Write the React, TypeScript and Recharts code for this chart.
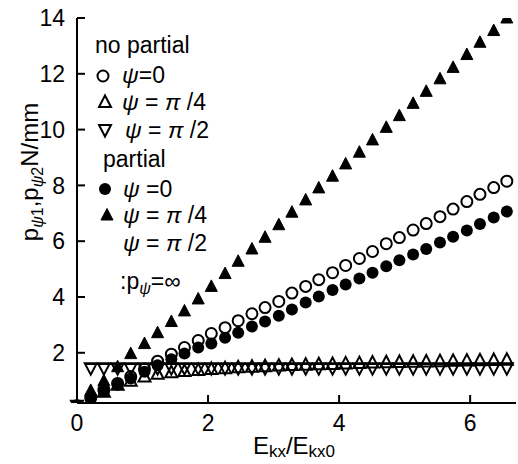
import React from 'react';
import { ScatterChart, Scatter, XAxis, YAxis } from 'recharts';

// E_kx / E_kx0
const xVals = [
  0, 0.21, 0.41, 0.62, 0.82, 1.03, 1.23, 1.44, 1.64, 1.85, 2.05, 2.26, 2.46, 2.67, 2.87, 3.08, 3.28,
  3.49, 3.69, 3.9, 4.1, 4.31, 4.51, 4.72, 4.92, 5.13, 5.33, 5.54, 5.74, 5.95, 6.15, 6.36, 6.56,
];

// no partial
const noPartial0 = [
  0.1, 0.4, 0.68, 0.9, 1.15, 1.42, 1.7, 1.95, 2.19, 2.44, 2.69, 2.9, 3.15, 3.4, 3.62, 3.84, 4.14,
  4.38, 4.62, 4.87, 5.13, 5.38, 5.63, 5.91, 6.13, 6.4, 6.63, 6.88, 7.15, 7.42, 7.68, 7.92, 8.15,
];
const noPartialQuarter = [
  0.1, 0.3, 0.6, 0.85, 1.0, 1.15, 1.25, 1.3, 1.35, 1.38, 1.42, 1.45, 1.48, 1.5, 1.52, 1.54, 1.56,
  1.57, 1.59, 1.6, 1.62, 1.63, 1.65, 1.66, 1.67, 1.68, 1.69, 1.7, 1.71, 1.72, 1.73, 1.74, 1.75,
];
const noPartialHalf = [
  0.1, 1.45, 1.45, 1.45, 1.45, 1.45, 1.45, 1.45, 1.45, 1.45, 1.45, 1.45, 1.45, 1.45, 1.45, 1.45, 1.45,
  1.45, 1.45, 1.45, 1.45, 1.45, 1.45, 1.45, 1.45, 1.45, 1.45, 1.45, 1.45, 1.45, 1.45, 1.45, 1.45,
];

// partial
const partial0 = [
  0.1, 0.35, 0.62, 0.85, 1.08, 1.32, 1.55, 1.77, 1.97, 2.19, 2.33, 2.54, 2.72, 2.94, 3.12, 3.33, 3.55,
  3.8, 4.02, 4.25, 4.45, 4.66, 4.87, 5.1, 5.32, 5.52, 5.72, 5.95, 6.16, 6.38, 6.62, 6.85, 7.06,
];
const partialQuarter = [
  0.1, 0.65, 1.0, 1.5, 1.97, 2.33, 2.72, 3.12, 3.5, 3.93, 4.38, 4.84, 5.28, 5.72, 6.14, 6.59, 7.04,
  7.48, 7.91, 8.33, 8.77, 9.19, 9.63, 10.08, 10.5, 10.94, 11.37, 11.82, 12.23, 12.69, 13.13, 13.55, 14.0,
];

// psi = pi/2 with p_psi = infinity (plain line)
const infLineX = [0.12, 6.66];
const infLineY = [1.6, 1.6];

const xTicks = [0, 2, 4, 6];
const yTicks = [2, 4, 6, 8, 10, 12, 14];

const W = 518;
const H = 464;
const FONT = "'Liberation Sans', Arial, Helvetica, sans-serif";

const pts = (xs: number[], ys: number[]) => xs.map((x, i) => ({ x, y: ys[i] }));

const OpenCircle = ({ cx, cy }: any) => (
  <circle cx={cx} cy={cy} r={5.5} fill="none" stroke="#000" strokeWidth={2} />
);
const FilledCircle = ({ cx, cy }: any) => <circle cx={cx} cy={cy} r={6} fill="#000" />;
const UpTri = ({ cx, cy, filled }: any) => (
  <polygon
    points={`${cx},${cy - 6.5} ${cx - 6},${cy + 5} ${cx + 6},${cy + 5}`}
    fill={filled ? '#000' : 'none'}
    stroke="#000"
    strokeWidth={filled ? 1 : 2}
  />
);
const DownTri = ({ cx, cy }: any) => (
  <polygon
    points={`${cx - 6},${cy - 5} ${cx + 6},${cy - 5} ${cx},${cy + 6.5}`}
    fill="none"
    stroke="#000"
    strokeWidth={2}
  />
);

const Psi = () => <tspan fontStyle="italic">ψ</tspan>;
const Pi = () => <tspan fontStyle="italic">π</tspan>;

const axisStyle = { stroke: '#000', strokeWidth: 2 };
const tickFont = { fill: '#000', fontSize: 23, fontFamily: FONT };

export default function App() {
  return (
    <div style={{ position: 'absolute', left: 0, top: 0, width: W, height: H, background: '#fff' }}>
      <ScatterChart width={W} height={H} margin={{ top: 18, right: 2, bottom: 0, left: 0 }}>
        <XAxis
          type="number"
          dataKey="x"
          domain={[0, 6.7]}
          ticks={xTicks}
          height={61}
          axisLine={axisStyle}
          tickLine={axisStyle}
          tickSize={-8}
          tickMargin={20}
          tick={tickFont}
        />
        <XAxis
          xAxisId="top"
          orientation="top"
          type="number"
          domain={[0, 6.7]}
          ticks={[2, 4, 6]}
          height={0}
          axisLine={axisStyle}
          tickLine={axisStyle}
          tickSize={-8}
          tickFormatter={() => ''}
        />
        <YAxis
          type="number"
          dataKey="y"
          domain={[0.2, 14]}
          ticks={yTicks}
          width={77}
          axisLine={axisStyle}
          tickLine={axisStyle}
          tickSize={-8}
          tickMargin={20}
          tick={tickFont}
          allowDataOverflow
        />
        <YAxis
          yAxisId="right"
          orientation="right"
          type="number"
          domain={[0.2, 14]}
          ticks={[2, 4, 6, 8, 10, 12]}
          width={0}
          axisLine={axisStyle}
          tickLine={axisStyle}
          tickSize={-8}
          tickFormatter={() => ''}
        />
        <Scatter
          data={pts(infLineX, infLineY)}
          line={{ stroke: '#000', strokeWidth: 2 }}
          shape={() => <g />}
          isAnimationActive={false}
        />
        <Scatter data={pts(xVals, noPartialHalf)} shape={<DownTri />} isAnimationActive={false} />
        <Scatter data={pts(xVals, noPartialQuarter)} shape={<UpTri />} isAnimationActive={false} />
        <Scatter data={pts(xVals, noPartial0)} shape={<OpenCircle />} isAnimationActive={false} />
        <Scatter data={pts(xVals, partial0)} shape={<FilledCircle />} isAnimationActive={false} />
        <Scatter data={pts(xVals, partialQuarter)} shape={<UpTri filled />} isAnimationActive={false} />
      </ScatterChart>

      <svg
        width={W}
        height={H}
        style={{ position: 'absolute', left: 0, top: 0, pointerEvents: 'none' }}
        fontFamily={FONT}
        fill="#000"
      >
        {/* axis titles */}
        <text x={38} y={172} fontSize={24} textAnchor="middle" transform="rotate(-90 38 172)">
          p
          <tspan fontSize={16} dy={5}>
            <Psi />1
          </tspan>
          <tspan dy={-5}>,p</tspan>
          <tspan fontSize={16} dy={5}>
            <Psi />2
          </tspan>
          <tspan dy={-5}>N/mm</tspan>
        </text>
        <text x={294} y={454} fontSize={24} textAnchor="middle">
          E
          <tspan fontSize={17} dy={3}>kx</tspan>
          <tspan dy={-3}>/E</tspan>
          <tspan fontSize={17} dy={3}>kx0</tspan>
        </text>

        {/* legend */}
        <g fontSize={23}>
          <text x={95} y={53}>no partial</text>
          <OpenCircle cx={103} cy={76} />
          <text x={122} y={83}>
            <Psi />=0
          </text>
          <UpTri cx={105} cy={102} />
          <text x={122} y={110}>
            <Psi /> = <Pi /> /4
          </text>
          <DownTri cx={105} cy={130} />
          <text x={125} y={138}>
            <Psi /> = <Pi /> /2
          </text>
          <text x={103} y={167}>partial</text>
          <FilledCircle cx={105} cy={189} />
          <text x={123} y={197}>
            <Psi /> =0
          </text>
          <UpTri cx={107} cy={215} filled />
          <text x={123} y={223}>
            <Psi /> = <Pi /> /4
          </text>
          <text x={123} y={251}>
            <Psi /> = <Pi /> /2
          </text>
          <text x={120} y={289}>
            :p
            <tspan fontSize={16} dy={5}>
              <Psi />
            </tspan>
            <tspan dy={-5}>=∞</tspan>
          </text>
        </g>
      </svg>
    </div>
  );
}
